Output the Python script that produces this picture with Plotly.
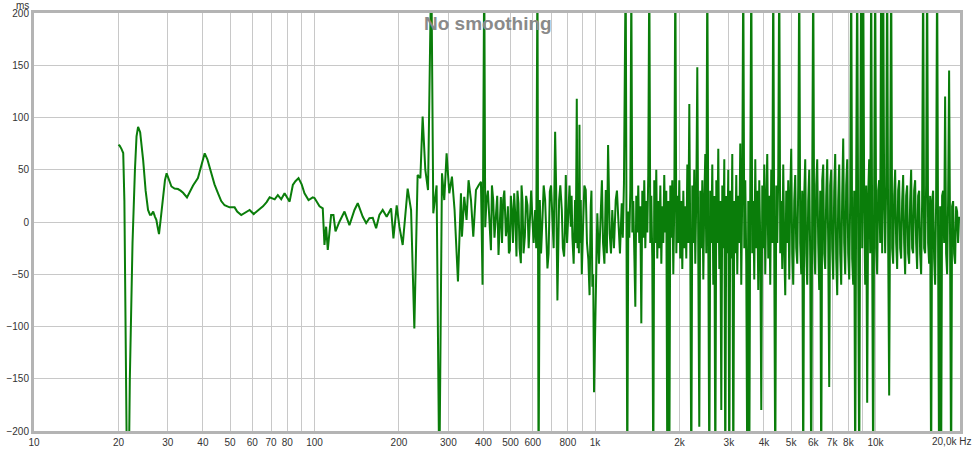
import plotly.graph_objects as go

# Group delay (ms) vs frequency (Hz)
freq_hz = [
    20.0, 20.2, 20.5, 20.8, 21.0, 21.25, 21.6, 21.96, 22.45, 22.9, 23.2, 23.5, 23.9, 24.5, 25.0, 25.5,
    25.9, 26.2, 26.6, 27.0, 27.3, 27.6, 27.9, 28.3, 28.85, 29.3, 29.7, 30.2, 30.9, 31.7, 32.6, 33.3,
    34.0, 35.1, 36.0, 36.9, 38.4, 39.5, 40.6, 41.5, 42.9, 44.0, 45.3, 46.5, 47.8, 49.8, 51.9, 53.0,
    54.8, 56.5, 58.7, 60.7, 63.0, 65.5, 67.5, 69.2, 72.1, 74.0, 76.1, 78.2, 81.5, 83.7, 85.5, 87.7,
    90.0, 92.1, 95.2, 98.6, 100.0, 102.7, 104.2, 107.0, 108.5, 110.0, 111.5, 114.6, 116.8, 118.8, 122.7, 127.9,
    133.2, 138.8, 142.6, 148.6, 152.8, 156.9, 161.3, 165.8, 170.3, 175.0, 180.8, 187.5, 191.1, 196.3, 200.7, 206.2,
    214.8, 220.9, 226.9, 233.1, 238.4, 242.9, 248.3, 253.9, 260.8, 265.1, 272.4, 278.5, 284.7, 290.1, 295.7, 302.3,
    309.0, 315.7, 324.6, 332.7, 335.4, 341.8, 348.3, 354.1, 361.2, 368.1, 376.3, 384.3, 392.0, 397.2, 402.7, 406,
    410.4, 415, 419.6, 422, 425.5, 429, 433.5, 438, 443.2, 448, 452.8, 457, 461.7, 466, 470.5, 475,
    481.1, 485, 489.0, 493, 497.1, 501, 505.3, 510, 514.9, 520, 524.7, 529, 533.3, 538, 544.0, 547,
    551.2, 556, 562.1, 568, 574.2, 580, 585.6, 592, 598.3, 604, 611.6, 617, 623.3, 629.0, 635.6, 642,
    649.4, 656, 663.9, 670, 676.6, 683, 690.0, 697, 704.9, 712, 720.7, 727, 734.3, 739, 744.6, 752,
    761.3, 768, 775.8, 781, 786.6, 795, 803.6, 811, 819.5, 825, 830.3, 839, 848.8, 854, 860.8, 866,
    872.2, 876, 880.0, 884, 889.4, 897, 906.4, 916, 926.6, 936, 946.6, 956, 965.4, 971, 978.1, 985,
    991.8, 1005, 1019, 1033, 1048, 1058, 1068, 1080, 1092, 1102, 1113, 1120, 1128, 1140, 1152, 1168,
    1185, 1197, 1210, 1227, 1245, 1256, 1268, 1286,
    1303, 1314, 1325, 1336, 1347, 1358, 1369, 1380, 1392, 1403, 1415, 1426, 1438, 1450, 1462, 1474,
    1486, 1498, 1511, 1523, 1536, 1548, 1561, 1574, 1587, 1600, 1613, 1626, 1640, 1653, 1667, 1681,
    1695, 1709, 1723, 1737, 1751, 1765, 1780, 1795, 1810, 1825, 1840, 1855, 1870, 1885, 1901, 1917,
    1933, 1949, 1965, 1981, 1997, 2013, 2030, 2047, 2064, 2081, 2098, 2115, 2133, 2150, 2168, 2186,
    2204, 2222, 2240, 2258, 2277, 2296, 2315, 2334, 2353, 2372, 2392, 2412, 2432, 2452, 2472, 2492,
    2513, 2534, 2555, 2576, 2597, 2618, 2640, 2662, 2684, 2706, 2728, 2750, 2773, 2796, 2819, 2842,
    2866, 2889, 2913, 2937, 2961, 2985, 3010, 3035, 3060, 3085, 3111, 3136, 3162, 3188, 3214, 3240,
    3267, 3294, 3321, 3348, 3376, 3404, 3432, 3460, 3489, 3518, 3547, 3576, 3606, 3635, 3665, 3695,
    3726, 3756, 3787, 3818, 3850, 3882, 3914, 3946, 3978, 4011, 4044, 4077, 4111, 4145, 4179, 4213,
    4248, 4283, 4318, 4354, 4390, 4426, 4462, 4499, 4536, 4573, 4611, 4649, 4687, 4726, 4765, 4804,
    4843, 4883, 4924, 4964, 5005, 5046, 5088, 5130, 5172, 5215, 5258, 5301, 5345, 5389, 5433, 5478,
    5523, 5568, 5614, 5660, 5707, 5754, 5802, 5850, 5898, 5946, 5995, 6044, 6094, 6144, 6195, 6246,
    6298, 6350, 6402, 6455, 6508, 6561, 6615, 6670, 6725, 6780, 6836, 6892, 6949, 7006, 7064, 7122,
    7181, 7240, 7300, 7360, 7420, 7481, 7543, 7605, 7668, 7731, 7795, 7859, 7924, 7989, 8055, 8121,
    8188, 8255, 8323, 8392, 8461, 8531, 8601, 8672, 8743, 8815, 8888, 8961, 9035, 9109, 9184, 9260,
    9336, 9413, 9490, 9568, 9647, 9727, 9807, 9888, 9969, 10051, 10134, 10218, 10302, 10387, 10472, 10558,
    10645, 10733, 10821, 10910, 11000, 11091, 11182, 11274, 11367, 11461, 11555, 11650, 11746, 11843, 11940, 12039,
    12138, 12238, 12338, 12440, 12542, 12646, 12750, 12855, 12960, 13067, 13175, 13284, 13393, 13503, 13614, 13726,
    13839, 13953, 14068, 14184, 14301, 14419, 14537, 14657, 14778, 14900, 15022, 15146, 15271, 15397, 15523, 15651,
    15780, 15910, 16041, 16173, 16306, 16441, 16576, 16713, 16850, 16989, 17129, 17270, 17412, 17556, 17700, 17846,
    17993, 18141, 18290, 18441, 18593, 18746, 18900, 19056, 19213, 19371, 19530, 19690, 19850,
]

delay_ms = [
    74, 73, 70, 66, 20, -150, -330, -150, -20, 50, 82, 91, 86, 59, 30, 11.5,
    7, 7, 10, 5, 2, -5, -11.5, 3, 24, 40, 46.6, 42, 34, 32, 31.5, 30,
    28, 23.6, 29, 35, 42, 55, 65.7, 60, 46.6, 36, 27.5, 20, 16, 14, 14, 10,
    6.7, 9, 11.5, 7.6, 11, 15, 19, 23.6, 21.7, 25.8, 21.7, 27.5, 19.5, 35.4, 39, 42,
    36, 27.5, 21, 23.6, 23, 18, 15, 13, -22, -4.5, -26.8, 6.7, 6.7, -9, 0.3, 10,
    -3, 11.5, 18, 5, -1, 3.6, 4, -6, 6.7, 11.5, 5, 13, -15.6, 16, -4.5, -22,
    32, 11.5, -102, 45, 42, 100.8, 49.8, 30.6, 250, 8.3, 35, -250, 46.6, 21, 65.7, 27.5,
    43.4, 11.5, -57, 27.5, -14, 24, 2, 40, 21, -14, 30.6, 35, 38.5, -60, 250, -5,
    21, 30, 5, -10, -27, 35, 21, -15, 6.7, 25, -31.6, 5, 24, -20, 21, 30,
    -13.5, -5, 15, -30, -27, 25, 11.5, -20, 27.5, 5, -33, 30, 18, -25, -39.5, 35,
    21, -30, -14, 25, 16, -25, 6.7, 30, 2, -20, 11.5, -25, 250, -250, 21, -30,
    2, 35, 21, -15, -44.5, -30, 29, 35, 8.3, -25, 86.4, 30, -75, -30, 21, 35,
    11.5, -25, -33, -10, 45, -20, 11.5, 35, -4.5, 25, -14, -40, 21, -20, 118, -25,
    20, -30, 93, -20, 21, -50, -4.5, 35, 30.6, -20, -36, -70, 15, 30, -62, -50,
    -163, -60, 8.3, -40, 24, 40, -20, -40, 30.6, -30, 73.6, 30, -11, -30, 11.5, -25,
    21, 30, -4.5, -30, 18, -15, 37, 250,
    -250, 10, -15, 30, 230, -10, 20, -30, -81, 25, -10, 35, -20, 15, -97, 30,
    -15, 40, -25, 20, -10, 45, 250, -20, 25, -35, -250, 40, -20, 50, -35, 20,
    -25, 35, -40, 15, -20, 45, -10, 30, -250, 20, -250, 35, -15, 40, -50, 20,
    250, -30, 25, -20, 40, -35, 20, -45, 30, -25, 15, -35, 55, -20, 113, -30,
    -250, 35, -20, 50, -40, 25, 148, -35, -196, 30, -25, 40, -55, 20, 65, -30,
    250, -20, -250, 30, -20, 55, -60, 25, -250, 40, -20, 70, -45, 20, -180, 35,
    -25, 60, -250, 25, -30, 50, -250, 30, -35, 65, -250, 20, -30, 45, -50, 25,
    -20, 75, -60, 30, 250, -25, 40, -40, -250, 20, -250, 35, 250, -30, 20, -55,
    60, -25, 30, -65, 40, -20, -180, 35, -25, 55, -50, 20, 65, -35, 25, -60,
    50, -20, 250, -30, -250, 35, -20, 45, 250, -30, 20, -45, 55, -25, -70, 30,
    -20, 40, -55, 25, 70, -30, -60, 20, 45, -25, -40, 35, 250, -20, -50, 30,
    -250, 25, 60, -30, -60, 20, 50, -35, -250, 30, 250, -25, -50, 35, 60, -20,
    -65, 30, -250, 40, 55, -30, -45, 25, 60, -20, -158, 35, 50, -25, -55, 30,
    65, -35, -70, 20, 55, -30, -60, 25, 80, -20, -50, 35, 60, -30, -55, 20,
    250, -35, -60, 30, -250, 40, 250, -20, -250, 30, 250, -25, 250, 20, -60, 35,
    -173, 25, 60, -30, 250, -20, -250, 30, 250, -25, -50, 30, 40, -20, 250, -30,
    250, 20, -30, 35, 250, -20, -166, 30, 250, -25, -40, 25, 50, -20, -45, 30,
    40, -25, -35, 20, 45, -20, -50, 25, 35, -30, -40, 20, 50, -25, -30, 30,
    40, -20, -45, 25, 30, -30, -50, 20, 250, -25, -30, 35, 250, -20, -40, 25,
    -250, 20, 30, -35, -60, 20, 250, -30, -250, 15, -250, 25, 30, -20, 120, -30,
    -50, 20, 145, -25, -250, 15, 20, -30, -40, 15, 10, -20, 5,
]

x_tick_vals = [10, 20, 30, 40, 50, 60, 70, 80, 90, 100, 200, 300, 400, 500, 600, 700, 800, 900,
               1000, 2000, 3000, 4000, 5000, 6000, 7000, 8000, 9000, 10000]
x_tick_text = ["10", "20", "30", "40", "50", "60", "70", "80", "", "100", "200", "300", "400", "500", "600", "", "800", "",
               "1k", "2k", "3k", "4k", "5k", "6k", "7k", "8k", "", "10k"]
y_tick_vals = [-200, -150, -100, -50, 0, 50, 100, 150, 200]

FONT = "Liberation Sans, Arial, sans-serif"

fig = go.Figure()
fig.add_trace(go.Scatter(
    x=freq_hz, y=delay_ms, mode="lines",
    line=dict(color="#0a7d0a", width=2),
    hoverinfo="skip", showlegend=False,
))

fig.update_layout(
    width=975, height=450,
    margin=dict(l=34, r=15, t=13, b=19, autoexpand=False),
    paper_bgcolor="white", plot_bgcolor="white",
    font=dict(family=FONT, size=10, color="#333333"),
    xaxis=dict(
        type="log", range=[1, 4.30103], automargin=False,
        tickmode="array", tickvals=x_tick_vals, ticktext=x_tick_text,
        showgrid=True, gridcolor="#c8c8c8", gridwidth=1,
        showline=True, linecolor="#b4b4b4", linewidth=3, mirror=True,
        ticks="", zeroline=False,
        tickfont=dict(family=FONT, size=10, color="#333333"),
    ),
    yaxis=dict(
        range=[-200, 200], automargin=False,
        tickmode="array", tickvals=y_tick_vals,
        showgrid=True, gridcolor="#c8c8c8", gridwidth=1,
        showline=True, linecolor="#b4b4b4", linewidth=3, mirror=True,
        ticks="", zeroline=False,
        tickfont=dict(family=FONT, size=10, color="#333333"),
    ),
    annotations=[
        dict(text="<b>No smoothing</b>", xref="paper", yref="paper", x=0.49, y=1,
             xanchor="center", yanchor="middle", yshift=-10, showarrow=False,
             font=dict(family=FONT, size=19, color="#8a8a8a")),
        dict(text="ms", xref="paper", yref="paper", x=0, y=1, xanchor="right", yanchor="middle",
             xshift=-3, yshift=8, showarrow=False, font=dict(family=FONT, size=10, color="#333333")),
        dict(text="20,0k Hz", xref="paper", yref="paper", x=1, y=0, xanchor="center", yanchor="top",
             xshift=-9, yshift=-3, showarrow=False, font=dict(family=FONT, size=10, color="#333333")),
    ],
)

fig.write_html("out.html", config={"displayModeBar": False},
               post_script="document.body.style.margin='0px';")
